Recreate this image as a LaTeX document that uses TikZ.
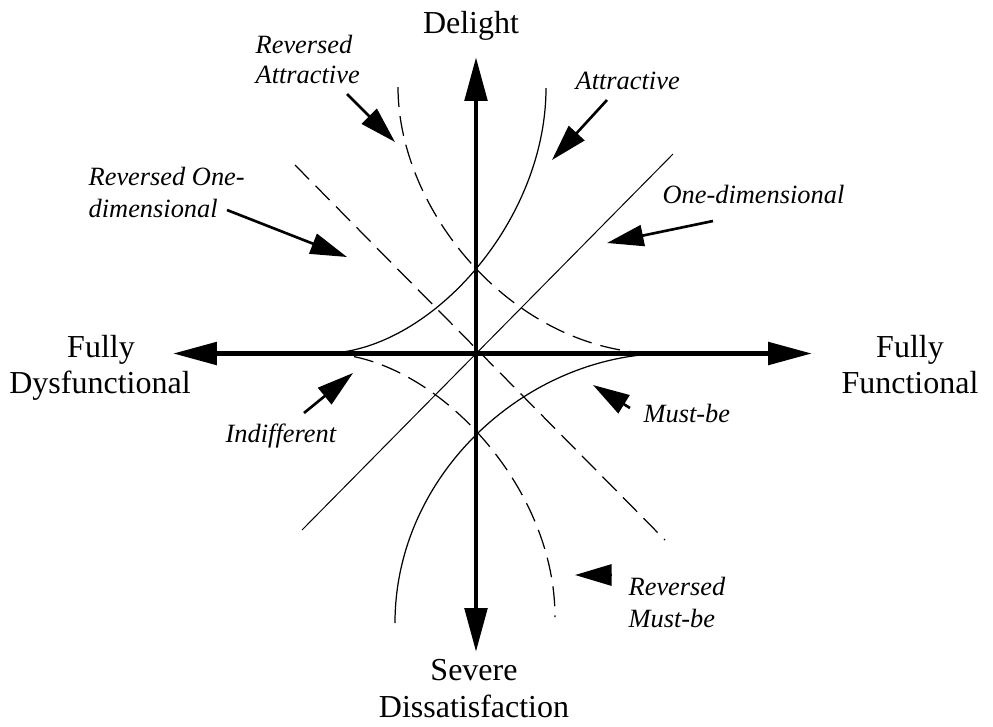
\documentclass[tikz,border=0pt]{standalone}
\usepackage{fontspec}
\setmainfont{Liberation Serif}[ItalicFont={Liberation Serif Italic}]
\usetikzlibrary{arrows.meta}
\begin{document}
\begin{tikzpicture}[x=0.01cm,y=-0.01cm,
  axis/.style={line width=1.42pt,{Triangle[length=12.5pt,width=6.3pt]}-{Triangle[length=12.5pt,width=6.3pt]}},
  pointer/.style={line width=0.75pt,-{Triangle[length=10.4pt,width=6pt]}},
  curve/.style={line width=0.35pt},
  thinline/.style={line width=0.28pt},
  dashcurve/.style={line width=0.35pt,dash pattern=on 5.7pt off 2.6pt},
  axislabel/.style={font=\fontsize{9.1}{10.3}\selectfont,inner sep=0pt,anchor=base},
  catlabel/.style={font=\fontsize{7.5}{9.1}\selectfont\itshape,inner sep=0pt,anchor=base west}
]
\useasboundingbox (0,0) rectangle (993,726);

% axes end points
\coordinate (L) at (173,353.5);
\coordinate (R) at (812,353.5);
\coordinate (T) at (476,57);
\coordinate (B) at (476,652);

% category curves
\coordinate (a0) at (323,353.5);  \coordinate (a1) at (546,88);
\coordinate (m0) at (668,353.5);  \coordinate (m1) at (395,623);
\coordinate (ra0) at (398,87);    \coordinate (ra1) at (660,353.5);
\coordinate (rm0) at (325,353.5); \coordinate (rm1) at (555,617);
\coordinate (o0) at (302,530);    \coordinate (o1) at (673,154);
\coordinate (ro0) at (295,165);   \coordinate (ro1) at (665,540);

\draw[curve] (a0) .. controls (428,353.5) and (546,223) .. (a1);
\draw[curve] (m0) .. controls (528,353.5) and (395,473) .. (m1);
\draw[dashcurve] (ra0) .. controls (398,212) and (515,353.5) .. (ra1);
\draw[dashcurve] (rm0) .. controls (430,353.5) and (555,482) .. (rm1);
\draw[thinline] (o0) -- (o1);
\draw[dashcurve] (ro0) -- (ro1);

% axes
\draw[axis] (L) -- (R);
\draw[axis] (B) -- (T);

% axis labels
\node[axislabel] (delight) at (471,33) {Delight};
\node[axislabel] (dys1) at (101,357) {Fully};
\node[axislabel] (dys2) at (100,393) {Dysfunctional};
\node[axislabel] (fun1) at (910,357) {Fully};
\node[axislabel] (fun2) at (910,393) {Functional};
\node[axislabel] (sev1) at (474,680) {Severe};
\node[axislabel] (sev2) at (474,717) {Dissatisfaction};

% category labels
\node[catlabel] (lra1) at (255,53) {Reversed};
\node[catlabel] (lra2) at (255,83) {Attractive};
\node[catlabel] (latt) at (575,89) {Attractive};
\node[catlabel] (lod) at (662,203) {One-dimensional};
\node[catlabel] (lro1) at (88,185) {Reversed One-};
\node[catlabel] (lro2) at (88,217) {dimensional};
\node[catlabel] (lind) at (225,442) {Indifferent};
\node[catlabel] (lmb) at (643,422) {Must-be};
\node[catlabel] (lrm1) at (628,595) {Reversed};
\node[catlabel] (lrm2) at (628,627) {Must-be};

% pointers from labels to curves
\coordinate (pra0) at (347,94);   \coordinate (pra1) at (395,142);
\coordinate (pat0) at (607,100);  \coordinate (pat1) at (552,160);
\coordinate (pod0) at (713,221);  \coordinate (pod1) at (607,243);
\coordinate (pro0) at (227,210);  \coordinate (pro1) at (347,257);
\coordinate (pin0) at (304,413);  \coordinate (pin1) at (353,373);
\coordinate (pmb0) at (630,408);  \coordinate (pmb1) at (593,385);
\coordinate (prm0) at (612,575);  \coordinate (prm1) at (575,575);

\draw[pointer] (pra0) -- (pra1);
\draw[pointer] (pat0) -- (pat1);
\draw[pointer] (pod0) -- (pod1);
\draw[pointer] (pro0) -- (pro1);
\draw[pointer] (pin0) -- (pin1);
\draw[pointer] (pmb0) -- (pmb1);
\draw[pointer] (prm0) -- (prm1);
\end{tikzpicture}
\end{document}
